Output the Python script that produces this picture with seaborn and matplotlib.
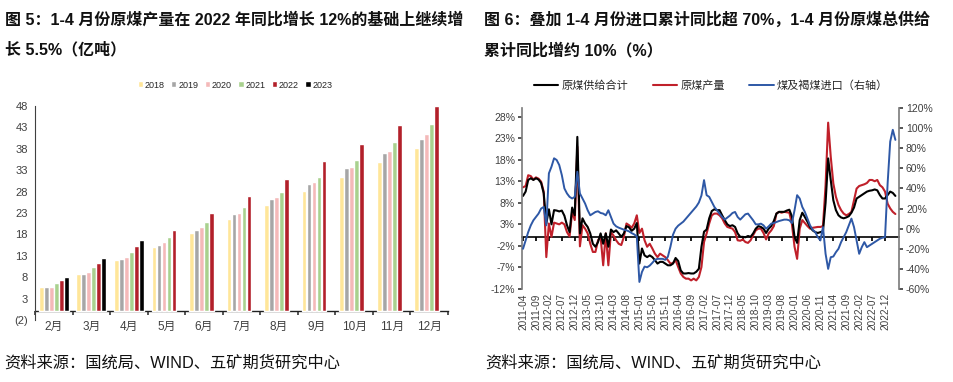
import numpy as np
import pandas as pd
import matplotlib
matplotlib.use('Agg')
import matplotlib.pyplot as plt
import seaborn as sns

# ---- left panel: cumulative raw coal output, 1e8 t ----
months = ['2月', '3月', '4月', '5月', '6月', '7月', '8月', '9月', '10月', '11月', '12月']
years = ['2018', '2019', '2020', '2021', '2022', '2023']
out_2018 = [5.7, 8.8, 12.0, 15.1, 18.4, 21.6, 24.9, 28.1, 31.4, 34.9, 38.3]
out_2019 = [5.7, 8.8, 12.2, 15.6, 19.1, 22.8, 26.3, 29.8, 33.4, 37.0, 40.4]
out_2020 = [5.6, 9.3, 12.8, 16.2, 19.7, 23.1, 26.7, 30.2, 33.8, 37.4, 41.4]
out_2021 = [6.6, 10.4, 13.8, 17.3, 20.8, 24.3, 27.9, 31.5, 35.5, 39.6, 43.9]
out_2022 = [7.3, 11.3, 15.3, 19.1, 22.9, 27.0, 30.9, 35.1, 39.1, 43.5, 47.9]
out_2023 = [8.0, 12.5, 16.6]
bar_colors = ['#FFE699', '#A6A6A6', '#F4B9B9', '#A9D18E', '#B2202A', '#000000']

# ---- right panel: cumulative yoy, 2011-04 .. 2023-04 ----
start_month = '2011-04'
supply_total = [
    9.6, 10.6, 13.3, 13.7, 13.3, 13.7, 13.4, 12.6, 10.2, 3.2, 6.5, 3.0,
    6.3, 6.2, 6.0, 6.2, 5.0, 2.8, 1.2, 6.9, 5.1, 23.3, 0.9, 4.4,
    3.2, 2.4, 0.9, -1.5, -2.2, -1.1, 0.9, -1.5, 0.9, -2.2, 1.8, 1.2,
    1.6, 0.9, 0.1, 0.9, 2.6, 2.3, 1.5, 2.0, 3.3, -6.1, -2.6, -4.2,
    -4.6, -4.2, -4.6, -5.3, -6.1, -5.7, -5.7, -6.1, -6.5, -6.5, -6.1, -4.8,
    -5.5, -7.7, -8.4, -8.4, -8.3, -8.4, -8.4, -8.0, -7.3, -2.2, 1.3, 1.8,
    4.4, 6.1, 6.5, 6.3, 6.3, 5.1, 4.0, 3.0, 2.6, 2.8, 2.4, 0.9,
    0.1, 0.1, 0.0, 0.3, 0.1, 0.9, 2.0, 2.6, 2.4, 2.0, 1.0, 2.0,
    2.6, 3.8, 5.5, 5.9, 5.9, 5.9, 6.2, 6.4, 4.8, 0.1, -1.3, 4.0,
    5.7, 4.7, 3.6, 2.4, 1.6, 1.2, 1.0, 1.2, 1.4, 8.0, 18.3, 13.3,
    8.6, 6.3, 5.1, 4.6, 4.4, 4.6, 4.9, 5.7, 6.9, 9.0, 9.4, 9.8,
    10.2, 10.6, 10.8, 10.9, 11.1, 10.9, 9.8, 9.0, 9.0, 9.8, 10.6, 10.3,
    9.6,
]
raw_output = [
    11.6, 11.9, 14.4, 14.2, 13.4, 13.9, 13.6, 12.9, 10.6, -4.6, 3.2, 0.1,
    3.4, 3.2, 3.0, 3.4, 3.0, 1.2, 0.2, 5.9, 4.0, 21.0, -2.1, 2.8,
    2.0, 0.9, -1.5, -3.4, -3.4, -0.7, 0.1, -6.5, 0.9, -6.5, 1.2, 0.4,
    -0.7, -1.5, -1.8, 0.1, 3.2, 2.8, 2.2, 3.2, 5.1, 1.0, 2.0, -0.7,
    -2.2, -1.5, -2.6, -3.8, -4.6, -3.8, -4.2, -4.6, -5.3, -6.1, -6.0, -5.3,
    -6.9, -8.4, -9.2, -9.6, -9.6, -10.0, -9.6, -10.0, -9.2, -6.9, -1.1, 0.9,
    3.2, 5.1, 5.5, 5.5, 5.1, 4.4, 3.2, 2.4, 2.2, 2.0, 1.2, -0.7,
    -0.8, -0.5, -1.1, -1.3, -0.7, 0.5, 1.6, 2.0, 2.0, 1.0, -0.5, 0.9,
    1.6, 2.6, 5.5, 5.9, 5.7, 5.9, 5.8, 5.7, 3.0, -2.2, -5.0, 2.0,
    4.0, 3.3, 2.6, 2.0, 2.2, 2.3, 2.4, 2.4, 2.6, 12.0, 26.6, 18.7,
    12.5, 9.4, 7.5, 6.3, 5.5, 5.1, 5.4, 5.9, 8.6, 11.3, 11.9, 12.1,
    12.3, 12.6, 13.3, 13.3, 13.0, 13.3, 12.1, 11.6, 10.6, 7.8, 6.7, 5.9,
    5.4,
]
coal_imports = [
    -20, -11.7, -3.4, 3.3, 8.3, 11.6, 15, 20, 21.6, 3.3, 55, 61.6,
    70, 68.3, 63.3, 53.3, 40, 35, 31.6, 30, 31.6, 56.6, 35, 30,
    25, 18.3, 13.3, 15, 16.6, 17.3, 15.6, 15, 13.3, 18.3, 11.6, 5,
    2.3, 1, 0, -1, -1.7, -2.7, -4.4, -5.7, -7.7, -53, -43, -37.7,
    -38.4, -36.7, -34, -31, -30, -30, -30, -31, -28, -18, -6, 0,
    3, 5, 7, 10, 13, 16, 19, 22, 26, 33, 48.3, 33.3,
    31.6, 26.6, 21.6, 18.3, 15, 11.6, 9, 11, 13, 15.6, 16.6, 11.6,
    9, 11.6, 14.3, 15, 11.6, 8.3, 4.3, 4.3, 5, 3.3, 0, 2.3,
    5, 5.6, 6.6, 7.6, 8.3, 9, 9, 8.3, 5.6, 18.3, 33.3, 30,
    21.6, 16.6, 10, 3.3, -1, -3.4, -8.4, -11.7, 1.6, -25, -40, -28.4,
    -27.7, -23.4, -20, -13.4, -8.4, -3.4, 3.3, 10, 1.6, -11.7, -25, -18.4,
    -13.4, -18.4, -16.7, -15, -13.4, -11.7, -10, -9, -8.4, 45, 86.6, 98.3,
    88.3,
]
line_red = '#C0202A'
line_blue = '#2E58A6'

sns.set_theme(style='white')
plt.rcParams['font.family'] = ['Liberation Sans', 'Noto Sans CJK SC']
plt.rcParams['axes.unicode_minus'] = False

W, H = 954, 382
fig = plt.figure(figsize=(W / 100, H / 100), dpi=100)

# ================= left chart =================
ax1 = fig.add_axes([35 / W, 1 - 320 / H, 413 / W, 214 / H])
all_out = [out_2018, out_2019, out_2020, out_2021, out_2022, out_2023]
rows = []
for yr, vals in zip(years, all_out):
    for m, v in zip(months, vals):
        rows.append({'month': m, 'year': yr, 'value': v})
df_bar = pd.DataFrame(rows)

sns.barplot(data=df_bar, x='month', y='value', hue='year', order=months,
            hue_order=years, palette=bar_colors, width=0.8, gap=0.06,
            saturation=1, ax=ax1)
handles, labels = ax1.get_legend_handles_labels()
ax1.get_legend().remove()

ax1.set_ylim(-2, 48)
ax1.set_xlim(-0.5, len(months) - 0.5)
yt = list(range(-2, 49, 5))
ax1.set_yticks(yt)
ax1.set_yticklabels(['(2)'] + [str(v) for v in yt[1:]])
ax1.get_yticklabels()[0].set_color('#FF5050')
ax1.tick_params(axis='y', length=3, direction='out', labelsize=8,
                colors='#404040', pad=2)
ax1.set_xticks(range(len(months)))
ax1.set_xticklabels(months)
ax1.tick_params(axis='x', length=0, labelsize=8.5, colors='#404040', pad=1)
ax1.set_xlabel('')
ax1.set_ylabel('')
for s in ['top', 'right', 'bottom']:
    ax1.spines[s].set_visible(False)
ax1.spines['left'].set_color('#404040')
ax1.spines['left'].set_linewidth(0.8)

# zero line with category boundary ticks
zero1 = ax1.secondary_xaxis(2 / 50)
zero1.set_xticks(np.arange(-0.5, len(months), 1))
zero1.tick_params(length=3, labelbottom=False, color='#404040')
zero1.spines['bottom'].set_color('#202020')
zero1.spines['bottom'].set_linewidth(1.0)

fig.legend(handles, labels, loc='center', bbox_to_anchor=(235 / W, 1 - 85 / H),
           ncol=6, frameon=False, fontsize=6.5, handlelength=0.6,
           handleheight=0.6, handletextpad=0.2, columnspacing=0.7)

# ================= right chart =================
ax2 = fig.add_axes([522 / W, 1 - 289 / H, 377 / W, 181 / H])
ax3 = ax2.twinx()
periods = pd.period_range(start_month, periods=len(supply_total), freq='M')
idx = np.arange(len(periods))

sns.lineplot(x=idx, y=raw_output, color=line_red, linewidth=1.5, ax=ax2,
             label='原煤产量')
sns.lineplot(x=idx, y=supply_total, color='black', linewidth=1.5, ax=ax2,
             label='原煤供给合计')
sns.lineplot(x=idx, y=coal_imports, color=line_blue, linewidth=1.4, ax=ax3,
             label='煤及褐煤进口（右轴）')
h2, l2 = ax2.get_legend_handles_labels()
h3, l3 = ax3.get_legend_handles_labels()
ax2.get_legend().remove()
ax3.get_legend().remove()

ax2.set_ylim(-12, 30)
lt = list(range(-12, 29, 5))
ax2.set_yticks(lt)
ax2.set_yticklabels([f'{v}%' for v in lt])
ax3.set_ylim(-60, 120)
rt = list(range(-60, 121, 20))
ax3.set_yticks(rt)
ax3.set_yticklabels([f'{v}%' for v in rt])
for a in (ax2, ax3):
    a.tick_params(axis='y', length=3, direction='out', labelsize=7.5,
                  colors='#404040', pad=2)
    a.set_xlabel('')
    a.set_ylabel('')
    a.spines['top'].set_visible(False)
    a.spines['bottom'].set_visible(False)
ax2.spines['right'].set_visible(False)
ax2.spines['left'].set_color('#808080')
ax3.spines['left'].set_visible(False)
ax3.spines['right'].set_color('#808080')

ax2.set_xlim(-0.4, len(idx) + 0.4)
xt = idx[::5]
ax2.set_xticks(xt)
ax2.set_xticklabels([str(p) for p in periods[::5]], rotation=90)
ax2.tick_params(axis='x', length=0, labelsize=7.2, colors='#404040', pad=3)

zero2 = ax2.secondary_xaxis(12 / 42)
zero2.set_xticks(xt)
zero2.tick_params(length=3, labelbottom=False, color='black')
zero2.spines['bottom'].set_color('black')
zero2.spines['bottom'].set_linewidth(1.2)

order = [1, 0]
fig.legend([h2[i] for i in order] + h3, [l2[i] for i in order] + l3,
           loc='center', bbox_to_anchor=(711 / W, 1 - 86 / H), ncol=3,
           frameon=False, fontsize=8, handlelength=2.2, handletextpad=0.3,
           columnspacing=2.2)

# ================= titles and sources =================
title_kw = dict(fontsize=11.5, fontweight='bold', va='center', ha='left',
                color='#111111')
fig.text(5 / W, 1 - 20 / H,
         '图 5：1-4 月份原煤产量在 2022 年同比增长 12%的基础上继续增', **title_kw)
fig.text(5 / W, 1 - 50 / H, '长 5.5%（亿吨）', **title_kw)
fig.text(484 / W, 1 - 20 / H,
         '图 6：叠加 1-4 月份进口累计同比超 70%，1-4 月份原煤总供给', **title_kw)
fig.text(484 / W, 1 - 50 / H, '累计同比增约 10%（%）', **title_kw)

src_kw = dict(fontsize=11.7, va='center', ha='left', color='#111111')
fig.text(4 / W, 1 - 363 / H, '资料来源：国统局、WIND、五矿期货研究中心', **src_kw)
fig.text(485 / W, 1 - 363 / H, '资料来源：国统局、WIND、五矿期货研究中心', **src_kw)

fig.savefig('out.png', dpi=100)
